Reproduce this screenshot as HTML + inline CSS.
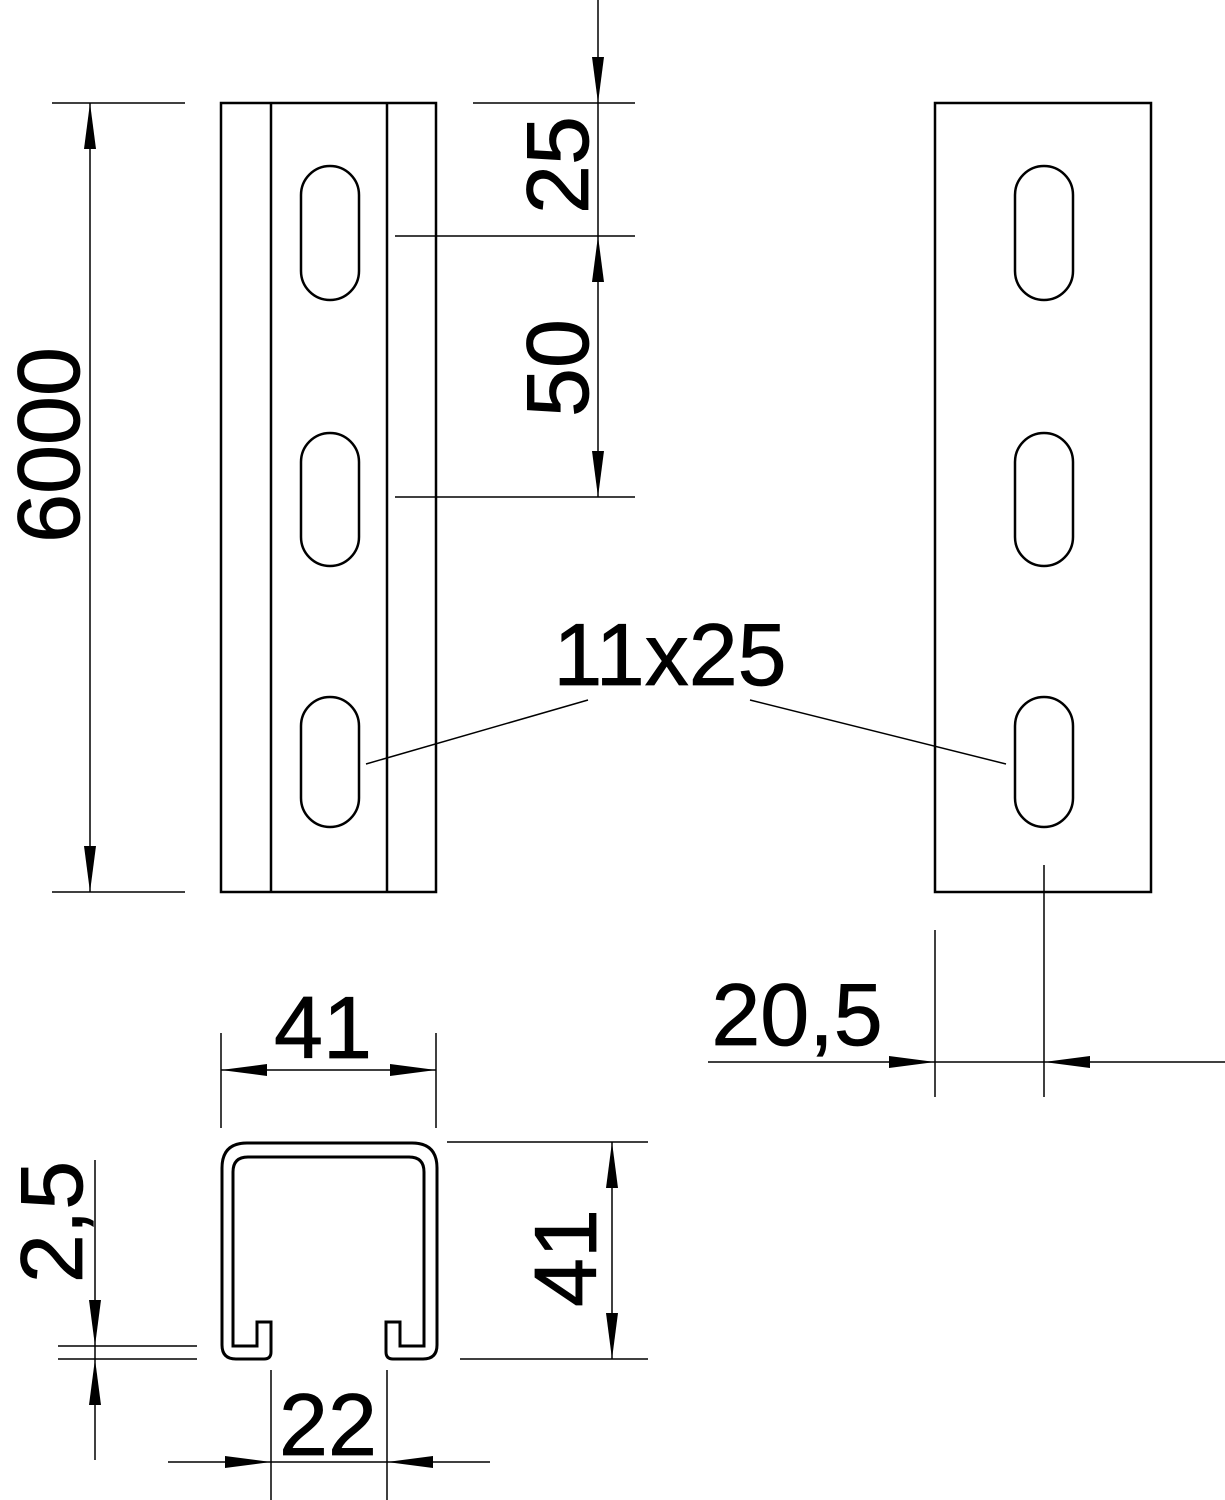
<!DOCTYPE html>
<html><head><style>body{margin:0;background:#fff}svg{display:block}</style></head><body>
<svg width="1225" height="1500" viewBox="0 0 1225 1500" xmlns="http://www.w3.org/2000/svg" font-family="Liberation Sans, sans-serif">
<defs>
<marker id="a" viewBox="0 0 46 12" refX="46" refY="6" markerWidth="46" markerHeight="12" markerUnits="userSpaceOnUse" orient="auto"><path d="M0,0 L46,6 L0,12 Z" fill="#000"/></marker>
</defs>
<g fill="none" stroke="#000" stroke-width="2.5">
<rect x="221" y="103" width="215" height="789"/>
<line x1="271" y1="103" x2="271" y2="892"/>
<line x1="387" y1="103" x2="387" y2="892"/>
<rect x="301" y="166" width="58" height="134" rx="29"/>
<rect x="301" y="433" width="58" height="133" rx="29"/>
<rect x="301" y="697" width="58" height="130" rx="29"/>
<rect x="935" y="103" width="216" height="789"/>
<rect x="1015" y="166" width="58" height="134" rx="29"/>
<rect x="1015" y="433" width="58" height="133" rx="29"/>
<rect x="1015" y="697" width="58" height="130" rx="29"/>
</g>
<g stroke="#000" stroke-width="1.5" fill="none">
<line x1="52" y1="103" x2="185" y2="103"/><line x1="52" y1="892" x2="185" y2="892"/>
<line x1="90" y1="498" x2="90" y2="103" marker-end="url(#a)"/><line x1="90" y1="498" x2="90" y2="892" marker-end="url(#a)"/>
<line x1="473" y1="103" x2="635" y2="103"/><line x1="395" y1="236" x2="635" y2="236"/><line x1="395" y1="497" x2="635" y2="497"/>
<line x1="598" y1="0" x2="598" y2="103" marker-end="url(#a)"/>
<line x1="598" y1="103" x2="598" y2="236"/>
<line x1="598" y1="366" x2="598" y2="236" marker-end="url(#a)"/><line x1="598" y1="366" x2="598" y2="497" marker-end="url(#a)"/>
<line x1="588" y1="700" x2="366" y2="764"/><line x1="750" y1="700" x2="1006" y2="764"/>
<line x1="935" y1="930" x2="935" y2="1097"/><line x1="1044" y1="865" x2="1044" y2="1097"/>
<line x1="708" y1="1062" x2="935" y2="1062" marker-end="url(#a)"/><line x1="1225" y1="1062" x2="1044" y2="1062" marker-end="url(#a)"/><line x1="935" y1="1062" x2="1044" y2="1062"/>
<line x1="221" y1="1033" x2="221" y2="1128"/><line x1="436" y1="1033" x2="436" y2="1128"/>
<line x1="328" y1="1070" x2="221" y2="1070" marker-end="url(#a)"/><line x1="328" y1="1070" x2="436" y2="1070" marker-end="url(#a)"/>
<line x1="447" y1="1142" x2="648" y2="1142"/><line x1="460" y1="1359" x2="648" y2="1359"/>
<line x1="612" y1="1250" x2="612" y2="1142" marker-end="url(#a)"/><line x1="612" y1="1250" x2="612" y2="1359" marker-end="url(#a)"/>
<line x1="58" y1="1346" x2="197" y2="1346"/><line x1="58" y1="1359" x2="197" y2="1359"/>
<line x1="95" y1="1160" x2="95" y2="1346" marker-end="url(#a)"/><line x1="95" y1="1460" x2="95" y2="1359" marker-end="url(#a)"/><line x1="95" y1="1346" x2="95" y2="1359"/>
<line x1="271" y1="1370" x2="271" y2="1500"/><line x1="387" y1="1370" x2="387" y2="1500"/>
<line x1="168" y1="1462" x2="271" y2="1462" marker-end="url(#a)"/><line x1="490" y1="1462" x2="387" y2="1462" marker-end="url(#a)"/><line x1="271" y1="1462" x2="387" y2="1462"/>
</g>
<path fill="none" stroke="#000" stroke-width="3" d="M271,1322 L271,1352 Q271,1359 264,1359 L236,1359 Q222,1359 222,1345 L222,1168 Q222,1143 247,1143 L412,1143 Q437,1143 437,1168 L437,1345 Q437,1359 423,1359 L393,1359 Q386,1359 386,1352 L386,1322 L400,1322 L400,1346 L424,1346 L424,1172 Q424,1157 409,1157 L248,1157 Q233,1157 233,1172 L233,1346 L257,1346 L257,1322 Z"/>
<g fill="#000" stroke="#000" stroke-width="0.8" font-size="88">
<text transform="translate(79,445) rotate(-90)" text-anchor="middle">6000</text>
<text transform="translate(588,165) rotate(-90)" text-anchor="middle">25</text>
<text transform="translate(588,368) rotate(-90)" text-anchor="middle">50</text>
<text x="670" y="685" text-anchor="middle">11x25</text>
<text x="797" y="1045" text-anchor="middle">20,5</text>
<text x="323" y="1058" text-anchor="middle">41</text>
<text transform="translate(596,1258) rotate(-90)" text-anchor="middle">41</text>
<text transform="translate(82,1222) rotate(-90)" text-anchor="middle">2,5</text>
<text x="328" y="1455" text-anchor="middle">22</text>
</g>
</svg>
</body></html>
